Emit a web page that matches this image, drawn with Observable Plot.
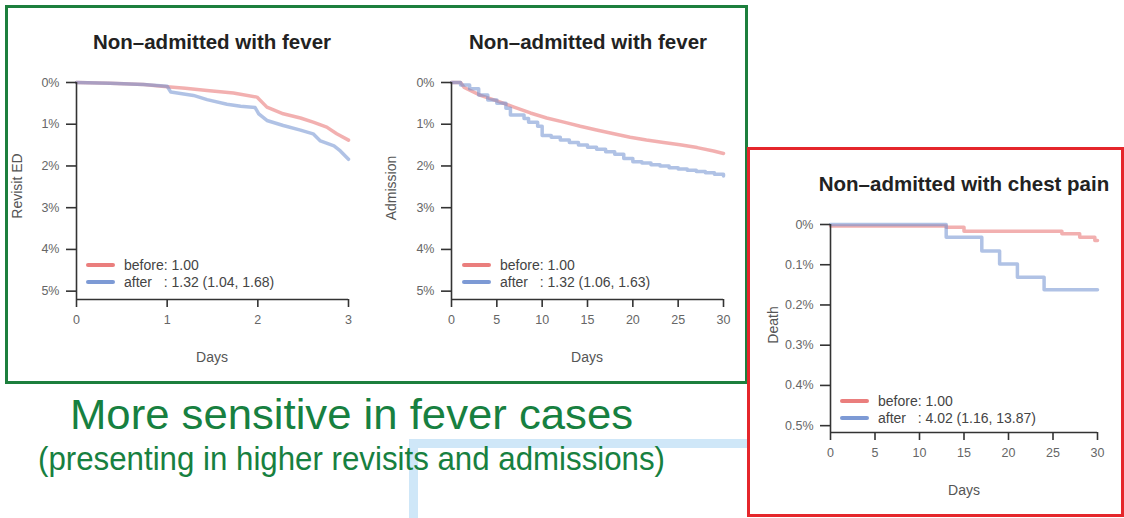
<!DOCTYPE html>
<html><head><meta charset="utf-8">
<script src="https://cdn.jsdelivr.net/npm/d3@7"></script>
<script src="https://cdn.jsdelivr.net/npm/@observablehq/plot@0.6"></script>
<style>
body{margin:0;background:#fff;}
#root{position:relative;width:1124px;height:518px;overflow:hidden;font-family:"Liberation Sans",Arial,sans-serif;background:#fff;}
.abs{position:absolute;}
.title{font-weight:bold;font-size:20.5px;color:#222;white-space:nowrap;transform:translate(-50%,-50%);}
.alabel{font-size:14px;color:#555;white-space:nowrap;transform:translate(-50%,-50%);}
.ylabel{font-size:14px;color:#555;white-space:nowrap;transform:translate(-50%,-50%) rotate(-90deg);}
.legend{font-size:14px;color:#444;white-space:pre;}
.legend .row{display:flex;align-items:center;height:16.5px;}
.sw{display:inline-block;width:29px;height:4px;margin-right:9px;border-radius:2px;}
.green{color:#178040;white-space:nowrap;transform-origin:0 50%;}
</style></head><body><div id="root"></div><script>
// ---------- data ----------
const panelTitles = ["Non–admitted with fever", "Non–admitted with fever", "Non–admitted with chest pain"];
const yLabels = ["Revisit ED", "Admission", "Death"];
const xLabel = "Days";
const seriesNames = ["before", "after"];
const legendTexts = [
  ["before: 1.00", "after   : 1.32 (1.04, 1.68)"],
  ["before: 1.00", "after   : 1.32 (1.06, 1.63)"],
  ["before: 1.00", "after   : 4.02 (1.16, 13.87)"]
];
const headline = "More sensitive in fever cases";
const subline = "(presenting in higher revisits and admissions)";

// Panel 1: revisit ED within 3 days (%)
const revisitTicksX = [0, 1, 2, 3];
const revisitTicksY = [0, 1, 2, 3, 4, 5];
const revisitBeforeDays = [0, 0.37, 0.74, 1.0, 1.2, 1.44, 1.73, 1.99, 2.1, 2.28, 2.47, 2.61, 2.76, 2.87, 3.0];
const revisitBeforePct  = [0, 0.02, 0.05, 0.1, 0.14, 0.19, 0.25, 0.35, 0.59, 0.75, 0.85, 0.95, 1.07, 1.23, 1.38];
const revisitAfterDays  = [0, 0.37, 0.74, 1.0, 1.04, 1.29, 1.44, 1.66, 1.81, 1.97, 2.01, 2.1, 2.28, 2.47, 2.61, 2.69, 2.84, 2.91, 3.0];
const revisitAfterPct   = [0, 0.02, 0.05, 0.09, 0.23, 0.31, 0.41, 0.52, 0.57, 0.6, 0.75, 0.91, 1.03, 1.14, 1.23, 1.4, 1.52, 1.64, 1.84];

// Panel 2: admission within 30 days (%)
const admitTicksX = [0, 5, 10, 15, 20, 25, 30];
const admitTicksY = [0, 1, 2, 3, 4, 5];
const admitBeforeDays = [0, 1, 1.4, 3.2, 5, 6.9, 8.7, 10.5, 12.4, 14.2, 16, 17.9, 19.7, 21.5, 23.4, 25.2, 27.1, 28.9, 30];
const admitBeforePct  = [0, 0, 0.12, 0.31, 0.44, 0.59, 0.73, 0.85, 0.95, 1.05, 1.14, 1.23, 1.31, 1.38, 1.44, 1.49, 1.56, 1.64, 1.70];
const admitAfterDays  = [0, 1, 2, 3, 4, 5, 6, 6.5, 8, 8.5, 9.5, 10, 11, 12, 13, 14, 15, 16, 17, 18, 19, 20, 21, 22, 23, 24, 25, 26, 27, 28, 29, 30];
const admitAfterPct   = [0, 0.06, 0.15, 0.3, 0.42, 0.5, 0.62, 0.78, 0.86, 0.95, 1.05, 1.27, 1.31, 1.38, 1.44, 1.5, 1.55, 1.6, 1.66, 1.72, 1.82, 1.9, 1.93, 1.97, 2.0, 2.04, 2.07, 2.1, 2.13, 2.16, 2.2, 2.24];

// Panel 3: death within 30 days (%)
const deathTicksX = [0, 5, 10, 15, 20, 25, 30];
const deathTicksY = [0, 0.1, 0.2, 0.3, 0.4, 0.5];
const deathBeforeDays = [0, 13, 15, 26, 28, 29.7, 30];
const deathBeforePct  = [0.004, 0.007, 0.017, 0.023, 0.032, 0.04, 0.04];
const deathAfterDays  = [0, 13, 17, 19, 21, 24, 30];
const deathAfterPct   = [0, 0.032, 0.066, 0.098, 0.131, 0.162, 0.162];

// ---------- helpers ----------
const RED = "#e8706f", BLUE = "#6f8fd0";
const rows = (days, pct) => days.map((d, i) => ({day: d, pct: pct[i]}));
const root = document.getElementById("root");
function add(cls, text, css) {
  const el = document.createElement("div");
  el.className = "abs " + cls;
  if (text != null) el.textContent = text;
  Object.assign(el.style, css);
  root.appendChild(el);
  return el;
}

function kmPlot({xDomain, xTicks, yMax, yTicks, yFmt, before, after, beforeCurve, afterCurve, width, height, mt, mr, mb, ml}) {
  return Plot.plot({
    width, height, marginTop: mt, marginRight: mr, marginBottom: mb, marginLeft: ml,
    x: {domain: xDomain},
    y: {domain: [0, yMax], reverse: true},
    style: {fontFamily: "'Liberation Sans', Arial, sans-serif", fontSize: "12.5px", color: "#555", background: "transparent", overflow: "visible"},
    marks: [
      Plot.line(before, {x: "day", y: "pct", stroke: RED, strokeOpacity: 0.55, strokeWidth: 3.5, curve: beforeCurve}),
      Plot.line(after, {x: "day", y: "pct", stroke: BLUE, strokeOpacity: 0.55, strokeWidth: 3.5, curve: afterCurve}),
      Plot.ruleX([xDomain[0]], {stroke: "#333", strokeWidth: 1.6}),
      Plot.ruleY([yMax], {stroke: "#333", strokeWidth: 1.6}),
      Plot.axisY({ticks: yTicks, tickSize: 10, tickPadding: 7, tickFormat: yFmt, label: null, stroke: "#333", strokeWidth: 1.6, fill: "#666"}),
      Plot.axisX({ticks: xTicks, tickSize: 8, tickPadding: 8, tickFormat: d => String(d), label: null, stroke: "#333", strokeWidth: 1.6, fill: "#666"})
    ]
  });
}

// ---------- decorations (behind) ----------
add("", null, {left: "409px", top: "439px", width: "339px", height: "9px", background: "#cfe7f8"});
add("", null, {left: "409px", top: "439px", width: "9px", height: "79px", background: "#cfe7f8"});

// ---------- panels ----------
const panels = [
  {left: 10, top: 60, width: 360, height: 310, mt: 22, mr: 22, mb: 71, ml: 66,
   xDomain: [0, 3], xTicks: revisitTicksX, yMax: 5.2, yTicks: revisitTicksY, yFmt: d => d + "%",
   before: rows(revisitBeforeDays, revisitBeforePct), after: rows(revisitAfterDays, revisitAfterPct),
   beforeCurve: "linear", afterCurve: "linear",
   title: [212, 42], xl: [212, 357], yl: [17, 186], leg: [86, 257]},
  {left: 385, top: 60, width: 360, height: 310, mt: 22, mr: 22, mb: 71, ml: 66,
   xDomain: [0, 30], xTicks: admitTicksX, yMax: 5.2, yTicks: admitTicksY, yFmt: d => d + "%",
   before: rows(admitBeforeDays, admitBeforePct), after: rows(admitAfterDays, admitAfterPct),
   beforeCurve: "linear", afterCurve: "step-after",
   title: [588, 42], xl: [587, 357], yl: [391, 188], leg: [462, 257]},
  {left: 760, top: 200, width: 360, height: 300, mt: 24, mr: 23, mb: 68, ml: 70,
   xDomain: [0, 30], xTicks: deathTicksX, yMax: 0.517, yTicks: deathTicksY, yFmt: d => d + "%",
   before: rows(deathBeforeDays, deathBeforePct), after: rows(deathAfterDays, deathAfterPct),
   beforeCurve: "step-after", afterCurve: "step-after",
   title: [964, 184], xl: [964, 490], yl: [773, 325], leg: [840, 393]}
];

panels.forEach((p, i) => {
  const svg = kmPlot(p);
  svg.style.position = "absolute";
  svg.style.left = p.left + "px";
  svg.style.top = p.top + "px";
  root.appendChild(svg);
  add("title", panelTitles[i], {left: p.title[0] + "px", top: p.title[1] + "px"});
  add("alabel", xLabel, {left: p.xl[0] + "px", top: p.xl[1] + "px"});
  add("ylabel", yLabels[i], {left: p.yl[0] + "px", top: p.yl[1] + "px"});
  const leg = add("legend", null, {left: p.leg[0] + "px", top: p.leg[1] + "px"});
  seriesNames.forEach((s, j) => {
    const row = document.createElement("div");
    row.className = "row";
    const sw = document.createElement("span");
    sw.className = "sw";
    sw.style.background = j === 0 ? RED : BLUE;
    sw.style.opacity = 0.9;
    const tx = document.createElement("span");
    tx.textContent = legendTexts[i][j];
    row.appendChild(sw); row.appendChild(tx);
    leg.appendChild(row);
  });
});

// ---------- borders ----------
add("", null, {left: "5px", top: "5px", width: "737px", height: "373px", border: "3px solid #1d7f3d", boxSizing: "content-box"});
add("", null, {left: "747px", top: "147px", width: "371px", height: "364px", border: "3px solid #e5262b"});

// ---------- green text ----------
function fitText(text, size, left, top, targetWidth) {
  const el = add("green", text, {left: left + "px", top: top + "px", fontSize: size + "px", lineHeight: "1"});
  const w = el.getBoundingClientRect().width;
  el.style.transform = `scaleX(${targetWidth / w})`;
  return el;
}
fitText(headline, 43, 70, 393, 563);
fitText(subline, 33, 38, 442, 627);
</script></body></html>
